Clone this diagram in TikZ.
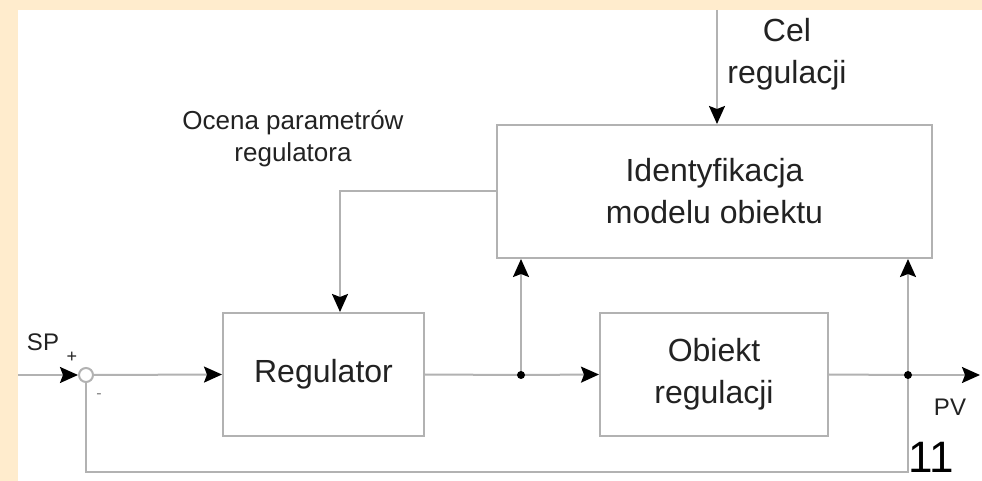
\documentclass[tikz,border=0pt]{standalone}
\usepackage{fontspec}
\setmainfont{Liberation Sans}
\usetikzlibrary{arrows.meta}
\usetikzlibrary{calc}

\definecolor{framebeige}{RGB}{255,236,205}
\definecolor{wiregray}{RGB}{178,178,178}
\definecolor{textdark}{RGB}{34,34,34}

\begin{document}
\begin{tikzpicture}[x=0.5pt,y=-0.5pt,
    wire/.style={draw=wiregray,line width=1pt},
    arrowed/.style={wire,-{Stealth[length=9pt,width=8pt,inset=1.5pt,black]}},
    block/.style={draw=wiregray,line width=1pt,fill=white,align=center,
      inner sep=0pt,text=textdark,font=\fontsize{16}{21}\selectfont},
    note/.style={align=center,inner sep=0pt,text=textdark}]

  % page frame
  \useasboundingbox (0,0) rectangle (982,481);
  \fill[framebeige] (0,0) rectangle (982,481);
  \fill[white] (18,10) rectangle (982,481);

  % blocks
  \node[block,minimum width=217.5pt,minimum height=66.5pt] (ident) at (714.5,191.5)
    {Identyfikacja\\modelu obiektu};
  \node[block,minimum width=100.5pt,minimum height=61.5pt] (reg) at (323.5,374.5)
    {Regulator};
  \node[block,minimum width=114pt,minimum height=61.5pt] (obj) at (714,374.5)
    {Obiekt\\regulacji};

  % summing point
  \node[circle,draw=wiregray,line width=1pt,fill=white,minimum size=7pt,inner sep=0pt]
    (sum) at (86,375) {};

  % free ends and branch points
  \coordinate (spin)  at (18,375);
  \coordinate (pvout) at (980,375);
  \coordinate (celin) at (717,10);
  \coordinate (fbl)   at (86,472);
  \coordinate (br1)   at (521,375);
  \coordinate (br2)   at (908,375);

  % forward path
  \draw[arrowed] (spin) -- (sum.west);
  \draw[arrowed] (sum.east) -- (reg.west);
  \draw[wire] (reg.east) -- (br1);
  \draw[arrowed] (br1) -- (obj.west);
  \draw[wire] (obj.east) -- (br2);
  \draw[arrowed] (br2) -- (pvout);

  % signals to the identification
  \draw[arrowed] (br1) -- (br1 |- ident.south);
  \draw[arrowed] (br2) -- (br2 |- ident.south);
  \draw[arrowed] (celin) -- (celin |- ident.north);

  % tuning of the regulator
  \draw[arrowed] (ident.west) -| ($(reg.north)+(16.5,0)$);

  % feedback
  \draw[wire] (br2) |- (fbl) -- (sum.south);

  % dots
  \fill (br1) circle [radius=2pt];
  \fill (br2) circle [radius=2pt];

  % labels
  \node[note,font=\fontsize{13}{16}\selectfont] (ocena) at (293,139)
    {Ocena parametrów\\regulatora};
  \node[note,font=\fontsize{16}{21}\selectfont] (cel) at (787,54) {Cel\\regulacji};
  \node[note,font=\fontsize{12}{14}\selectfont] (sp) at (43,342) {SP};
  \node[note,font=\fontsize{12}{14}\selectfont] (pv) at (950,407) {PV};
  \node[note,font=\fontsize{9}{10}\selectfont] (plus) at (72,357) {+};
  \node[note,font=\fontsize{8}{9}\selectfont,text=gray] (minus) at (99,396) {-};
  \node[note,font=\fontsize{22}{26}\selectfont,text=black] (pagenum) at (931,457) {11};

\end{tikzpicture}
\end{document}
